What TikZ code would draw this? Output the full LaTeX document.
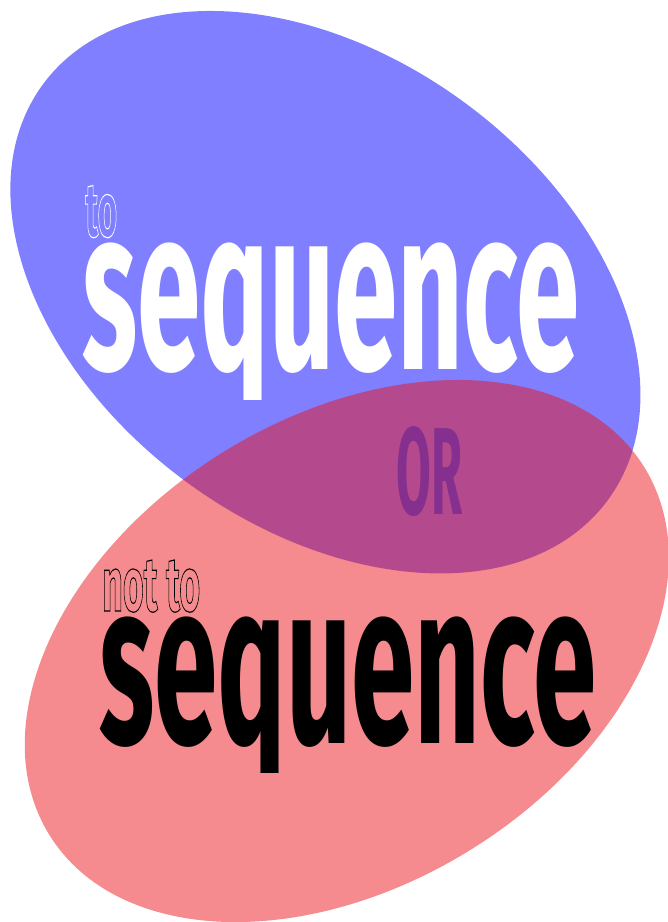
\documentclass[tikz,border=0pt]{standalone}
\usepackage{fontspec}
\usepackage{graphicx}
\newfontfamily\seqfont{Fira Sans}
\definecolor{bluefill}{RGB}{0,0,255}
\definecolor{redfill}{RGB}{235,23,29}
\definecolor{orpurple}{RGB}{133,48,143}
\newcommand{\hollow}[1]{\special{pdf:literal 1 Tr 0.9 w}#1\special{pdf:literal 0 Tr}}
\tikzset{
  blob/.style={fill opacity=0.5},
  word/.style={inner sep=0pt, anchor=base west, font=\seqfont\bfseries\fontsize{60}{60}\selectfont},
}
\begin{document}
\begin{tikzpicture}[x=1pt,y=-1pt]
        \useasboundingbox (0,0) rectangle (668,922);
        % Coordinates
        \coordinate (c1) at (325.4,292.2);
        \coordinate (c2) at (346.8,651);
        % Draw the blobs
        \fill[blob, bluefill, rotate around={-36.35:(c1)}] (c1) ellipse [x radius=350.7, y radius=235.2];
        \fill[blob, redfill, rotate around={31.7:(c2)}] (c2) ellipse [x radius=349.7, y radius=234.2];
        % Draw the words (the q tail is cut short)
        \node[word, text=white] (to) at (85,236.5) {\resizebox{32pt}{51pt}{\hollow{to}}};
        \begin{scope}
            \clip (0,0) rectangle (668,399);
            \node[word, text=white] (seqtop) at (82,369.3) {\resizebox{497pt}{126.6pt}{sequence}};
        \end{scope}
        \node[word, text=orpurple] (or) at (396,514) {\resizebox{66pt}{88pt}{OR}};
        \node[word] (notto) at (102,611) {\resizebox{98pt}{51pt}{\hollow{not to}}};
        \begin{scope}
            \clip (0,400) rectangle (668,772.3);
            \node[word] (seqbot) at (99,743.3) {\resizebox{497pt}{126.6pt}{sequence}};
        \end{scope}
    \end{tikzpicture}
\end{document}
